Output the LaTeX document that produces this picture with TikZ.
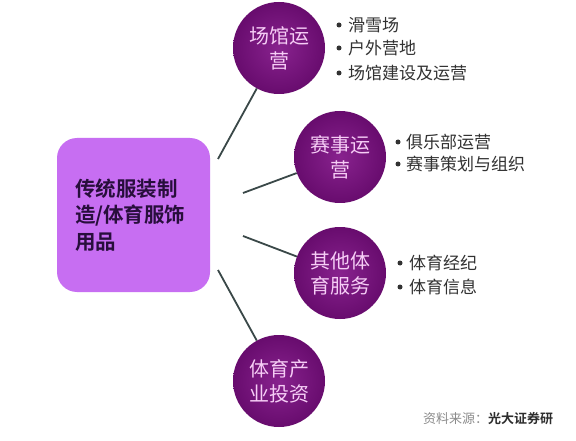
\documentclass[tikz,border=0pt]{standalone}
\usepackage{fontspec}
\newfontfamily\cjk{Noto Sans CJK SC}
\newfontfamily\cjkb{Noto Sans CJK SC Bold}
\definecolor{rectfill}{RGB}{199,110,242}
\definecolor{recttext}{RGB}{40,14,60}
\definecolor{circin}{RGB}{136,34,142}
\definecolor{circout}{RGB}{104,12,110}
\definecolor{circtext}{RGB}{246,205,246}
\definecolor{linecol}{RGB}{58,72,72}
\definecolor{listtext}{RGB}{50,50,50}
\tikzset{
  hub/.style={draw=none, fill=rectfill, rounded corners=20pt, minimum width=153pt, minimum height=154pt,
    inner xsep=18pt, text width=117pt, align=left, text=recttext,
    font=\cjkb\fontsize{20.5}{26.5}\selectfont},
  topic/.style={circle, minimum size=92pt, inner sep=0pt, shading=radial, inner color=circin, outer color=circout,
    text=circtext, align=center, font=\cjk\fontsize{20}{25}\selectfont},
  link/.style={draw=linecol, line width=1.8pt},
  item/.style={anchor=west, inner sep=0pt, text=listtext, font=\cjk\fontsize{17}{20}\selectfont},
  dot/.style={circle, fill=listtext, inner sep=0pt, minimum size=5pt},
}
\begin{document}
\begin{tikzpicture}[x=1pt,y=-1pt]
\useasboundingbox (0,0) rectangle (576,441);
\fill[white] (0,0) rectangle (576,441);

\node[hub] (hub) at (133.5,215) {传统服装制\\造/体育服饰\\用品};

\node[topic] (c1) at (279,48) {场馆运\\营};
\node[topic] (c2) at (340,157) {赛事运\\营};
\node[topic] (c3) at (340,273) {其他体\\育服务};
\node[topic] (c4) at (279,381) {体育产\\业投资};

\coordinate (s1) at (218,159);
\coordinate (s2) at (243,193);
\coordinate (s3) at (243,236);
\coordinate (s4) at (218,270);
\draw[link] (s1) -- (c1);
\draw[link] (s2) -- (c2);
\draw[link] (s3) -- (c3);
\draw[link] (s4) -- (c4);

\node[dot] (b11) at (339,25) {};
\node[dot] (b12) at (339,48) {};
\node[dot] (b13) at (339,73) {};
\node[item] (t11) at (348,25) {滑雪场};
\node[item] (t12) at (348,48) {户外营地};
\node[item] (t13) at (348,73) {场馆建设及运营};

\node[dot] (b21) at (398,142) {};
\node[dot] (b22) at (398,164) {};
\node[item] (t21) at (406,142) {俱乐部运营};
\node[item] (t22) at (406,164) {赛事策划与组织};

\node[dot] (b31) at (400,263) {};
\node[dot] (b32) at (400,287) {};
\node[item] (t31) at (409,263) {体育经纪};
\node[item] (t32) at (409,287) {体育信息};

\node[anchor=west, inner sep=0pt, font=\cjk\fontsize{13}{15}\selectfont] (src) at (423,419)
  {\textcolor[RGB]{140,140,140}{资料来源：}\textcolor[RGB]{45,45,45}{\cjkb 光大证券研}};
\end{tikzpicture}
\end{document}
